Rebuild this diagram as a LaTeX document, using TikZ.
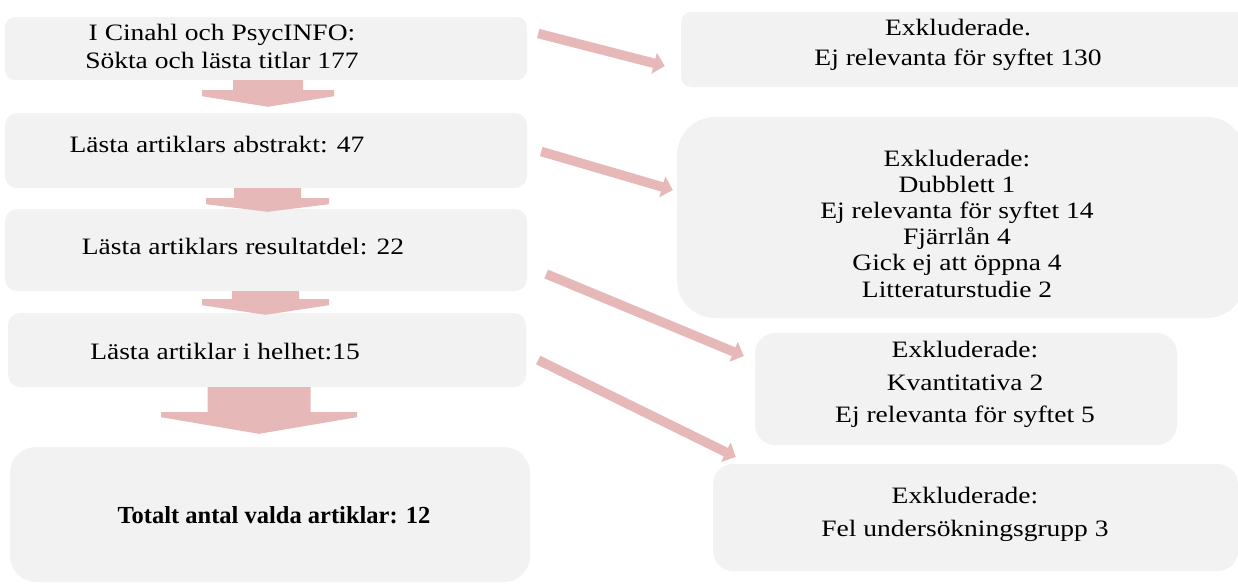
\documentclass[tikz,border=0pt]{standalone}
\usepackage{fontspec}
\setmainfont[FakeStretch=1.17]{Liberation Serif}
\newfontfamily\totalfont{Liberation Serif}
\usepackage{xcolor}
\usepackage{tikz}
\usetikzlibrary{arrows.meta,positioning,calc}
\definecolor{BoxGray}{HTML}{F2F2F2}
\definecolor{Rose}{HTML}{E6B9B8}

\begin{document}
\begin{tikzpicture}[x=1pt,y=-1pt,
box/.style={fill=BoxGray,draw=none,rounded corners=#1,inner sep=0pt},
box/.default=10pt,
txt/.style={align=center,font=\fontsize{23.5}{26.2}\selectfont,inner sep=0pt},
blockarrow/.style={fill=Rose},
slant/.style={draw=Rose,line width=9.5pt,-{Triangle[length=11pt,width=21pt]}}]
\useasboundingbox (0,0) rectangle (1238,584);
% left column
\node[box,minimum width=522,minimum height=63] (b1) at (266,48.5) {};
\node[box=12pt,minimum width=522,minimum height=75] (b2) at (266,150.5) {};
\node[box=12pt,minimum width=522,minimum height=82] (b3) at (266,250) {};
\node[box=12pt,minimum width=518,minimum height=74] (b4) at (267,350) {};
\node[box=26pt,minimum width=520,minimum height=135] (b5) at (270,514.5) {};
\node[txt,font=\fontsize{23.5}{28}\selectfont] (t1) at (222,46) {I Cinahl och PsycINFO:\\Sökta och lästa titlar 177};
\node[txt] (t2) at (217,145) {Lästa artiklars abstrakt: 47};
\node[txt] (t3) at (243,247) {Lästa artiklars resultatdel: 22};
\node[txt] (t4) at (225,352) {Lästa artiklar i helhet:15};
\node[txt,font=\totalfont\fontsize{24.5}{26.2}\selectfont\bfseries] (t5) at (274,515) {Totalt antal valda artiklar: 12};
% right column
\node[box,minimum width=569,minimum height=75] (r1) at (965.5,49.5) {};
\node[box=38pt,minimum width=568,minimum height=201] (r2) at (961,217.5) {};
\node[box=20pt,minimum width=422,minimum height=112] (r3) at (966,389) {};
\node[box=20pt,minimum width=525,minimum height=107] (r4) at (975.5,517.5) {};
\node[txt,font=\fontsize{23.5}{30}\selectfont] (x1) at (958,45) {Exkluderade.\\Ej relevanta för syftet 130};
\node[txt] (x2) at (957,223.5) {Exkluderade:\\Dubblett 1\\Ej relevanta för syftet 14\\Fjärrlån 4\\Gick ej att öppna 4\\Litteraturstudie 2};
\node[txt,font=\fontsize{23.5}{32.5}\selectfont] (x3) at (965,384.5) {Exkluderade:\\Kvantitativa 2\\Ej relevanta för syftet 5};
\node[txt,font=\fontsize{23.5}{33}\selectfont] (x4) at (965,514) {Exkluderade:\\Fel undersökningsgrupp 3};
% block arrows down
\foreach \a/\b/\dx/\s/\h/\hy/\sy/\g in {b1/b2/2/35/66/10/16/-6, b2/b3/1.5/33.5/61.5/10/16/3,
  b3/b4/-0.5/33.5/63.5/8/14/2, b4/b5/-8/51.5/98/25/30/-13} {
  \coordinate (s) at ($(\a.south)+(\dx,0)$);
  \fill[blockarrow] ($(s)+(-\s,0)$) -- ($(s)+(\s,0)$) -- ($(s)+(\s,\hy)$) -- ($(s)+(\h,\hy)$)
    -- ($(s)+(\h,\sy)$) -- ($(s |- \b.north)+(0,\g)$) -- ($(s)+(-\h,\sy)$) -- ($(s)+(-\h,\hy)$)
    -- ($(s)+(-\s,\hy)$) -- cycle;
}
% exclusion arrows
\draw[slant] ($(b1.east)+(11,-15)$) -- ($(r1.west)+(-16,16.5)$);
\draw[slant] ($(b2.east)+(14,1)$) -- ($(r2.west)+(-4,-27.5)$);
\draw[slant] ($(b3.east)+(19,24)$) -- ($(r3.west)+(-11,-33)$);
\draw[slant] ($(b4.east)+(12,10)$) -- ($(r4.west)+(23,-60.5)$);
\end{tikzpicture}
\end{document}
